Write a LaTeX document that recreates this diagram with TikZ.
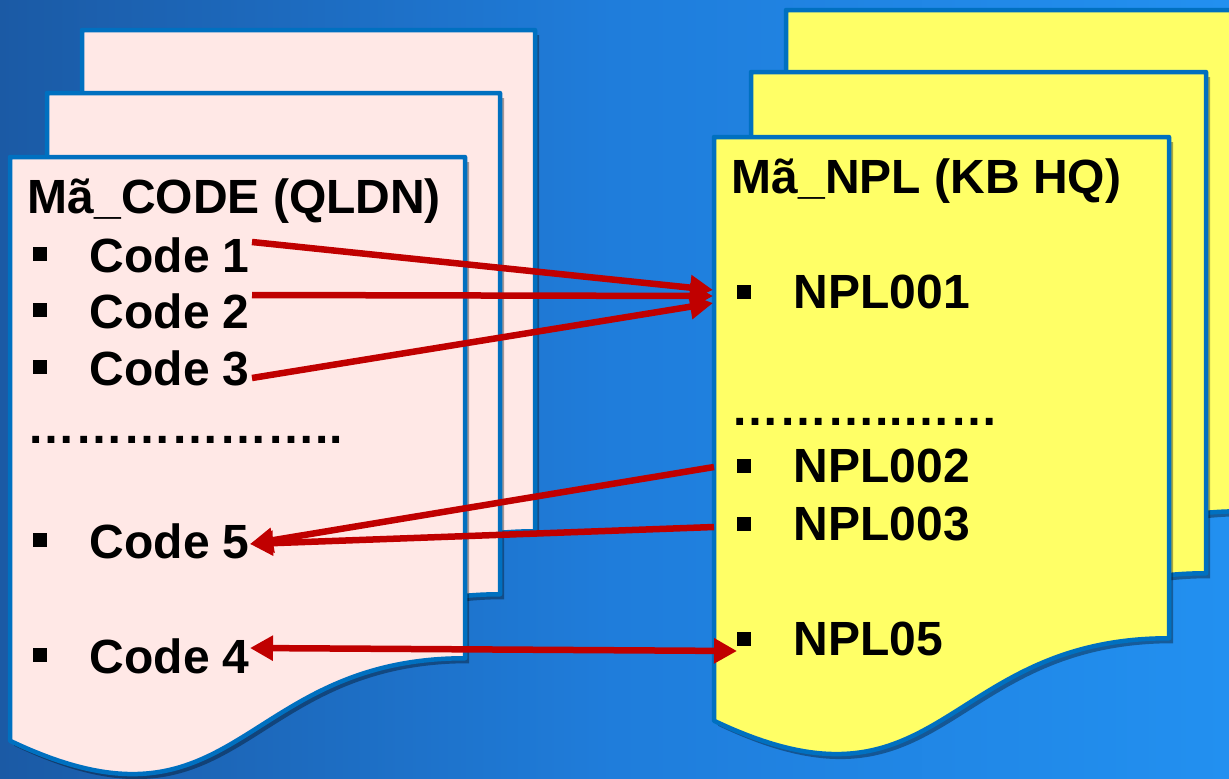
\documentclass[tikz,border=0pt]{standalone}
\usepackage{fontspec}
\setmainfont{Liberation Sans}
\usetikzlibrary{arrows.meta,shadows}
\definecolor{docblue}{HTML}{0070C0}
\definecolor{pinkfill}{HTML}{FFE8E6}
\definecolor{yellowfill}{HTML}{FFFF66}
\definecolor{arrowred}{HTML}{C00000}
\definecolor{bgleft}{HTML}{1B5AA5}
\definecolor{bgmid}{HTML}{1F7DDB}
\definecolor{bgright}{HTML}{2290F0}
\newcommand{\drawdoc}[5]{% x y w h fill
  \path[docframe,fill=#5] (#1,#2) -- ({#1+#3},#2) -- ({#1+#3},{#2+0.802*#4})
    .. controls ({#1+0.5*#3},{#2+0.802*#4}) and ({#1+0.5*#3},{#2+1.1075*#4}) .. (#1,{#2+0.934*#4}) -- cycle;}
\tikzset{
  docframe/.style={draw=docblue, line width=4.5pt, line join=round,
    drop shadow={shadow xshift=4pt, shadow yshift=-5pt, opacity=0.35, fill=black}},
  lbl/.style={anchor=base west, inner sep=0pt, text=black,
    font=\bfseries\fontsize{48}{52}\selectfont},
  bulletsq/.style={fill=black, inner sep=0pt, minimum size=14pt, draw=none},
  redarrow/.style={draw=arrowred, line width=6.5pt, -{Triangle[length=23pt,width=24pt]}}
}
\begin{document}
\begin{tikzpicture}[x=1pt,y=-1pt]
\useasboundingbox (0,0) rectangle (1229,779);
\clip (0,0) rectangle (1229,779);
\shade[left color=bgleft, right color=bgright, middle color=bgmid] (0,0) rectangle (1229,779);
% left stack
\drawdoc{82}{30}{453}{625}{pinkfill}
\drawdoc{47}{93}{453}{625}{pinkfill}
\drawdoc{10}{157}{455}{625}{pinkfill}
% right stack
\drawdoc{786}{10}{455}{625}{yellowfill}
\drawdoc{751}{72}{455}{625}{yellowfill}
\drawdoc{714}{137}{455}{625}{yellowfill}
% left texts
\node[lbl] (ltitle) at (27.5,213) {Mã\_CODE (QLDN)};
\node[bulletsq] (lb1) at (40,254) {};
\node[lbl] (code1) at (89.5,272) {Code 1};
\node[bulletsq] (lb2) at (40,310) {};
\node[lbl] (code2) at (89.5,328) {Code 2};
\node[bulletsq] (lb3) at (40,367) {};
\node[lbl] (code3) at (89.5,385) {Code 3};
\node[lbl] (ldots) at (27.5,443) {………………..};
\node[bulletsq] (lb5) at (40,540) {};
\node[lbl] (code5) at (89.5,558) {Code 5};
\node[bulletsq] (lb4) at (40,655) {};
\node[lbl] (code4) at (89.5,673) {Code 4};
% right texts
\node[lbl] (rtitle) at (731.5,193) {Mã\_NPL (KB HQ)};
\node[bulletsq] (rb1) at (744,292) {};
\node[lbl] (npl1) at (793.5,308) {NPL001};
\node[lbl] (rdots) at (731.5,425) {………..……};
\node[bulletsq] (rb2) at (744,466) {};
\node[lbl] (npl2) at (793.5,482) {NPL002};
\node[bulletsq] (rb3) at (744,524) {};
\node[lbl] (npl3) at (793.5,540) {NPL003};
\node[bulletsq] (rb5) at (744,639) {};
\node[lbl] (npl5) at (793.5,655) {NPL05};
% connector end points
\coordinate (c1e) at (252,242);
\coordinate (c2e) at (252,295);
\coordinate (c3e) at (252,378);
\coordinate (n1a) at (713,290);
\coordinate (n1b) at (713,296);
\coordinate (n1c) at (713,303);
\coordinate (n2w) at (714,467);
\coordinate (n3w) at (714,527);
\coordinate (c5e) at (250,544);
\coordinate (c4e) at (250,648);
\coordinate (n5w) at (737,651);
% connectors
\draw[redarrow] (c1e) -- (n1a);
\draw[redarrow] (c2e) -- (n1b);
\draw[redarrow] (c3e) -- (n1c);
\draw[redarrow] (n2w) -- (c5e);
\draw[redarrow] (n3w) -- (c5e);
\draw[redarrow, {Triangle[length=23pt,width=24pt]}-{Triangle[length=23pt,width=24pt]}] (c4e) -- (n5w);
\end{tikzpicture}
\end{document}
